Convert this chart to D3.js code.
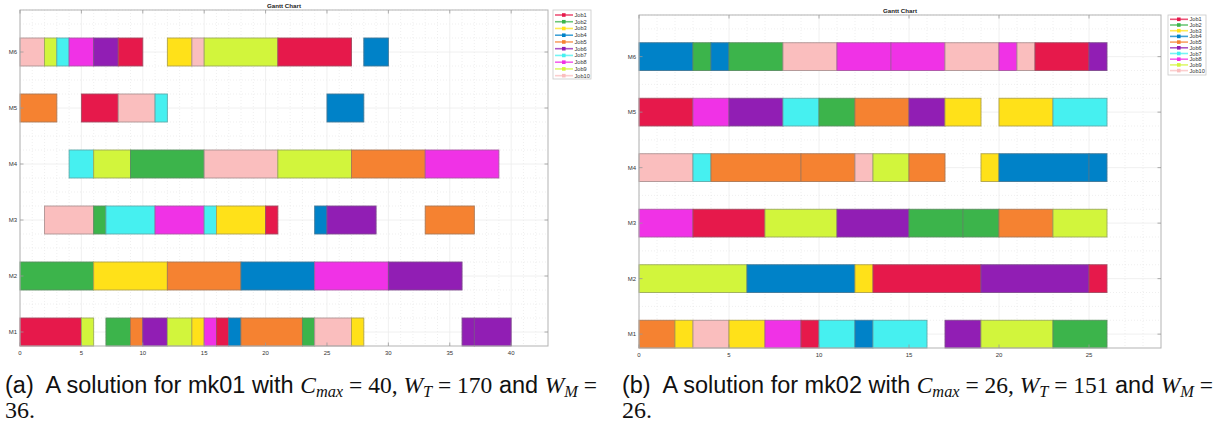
<!DOCTYPE html>
<html>
<head>
<meta charset="utf-8">
<script src="https://cdn.jsdelivr.net/npm/d3@7"></script>
<style>
  body { margin: 0; background: #fff; }
  svg { display: block; }
</style>
</head>
<body>
<svg width="1217" height="425"></svg>
<script>
// machines, jobs and colours
var machines = ["M1", "M2", "M3", "M4", "M5", "M6"];
var jobs = ["Job1", "Job2", "Job3", "Job4", "Job5", "Job6", "Job7", "Job8", "Job9", "Job10"];
var jobColors = ["#e6194b", "#3cb44b", "#ffe119", "#0082c8", "#f58231",
                 "#911eb4", "#46f0f0", "#f032e6", "#d2f53c", "#fabebe"];

// operations: [machine, job number, start, end]
var mk01Ops = [
  ["M6",10,0,2],["M6",9,2,3],["M6",7,3,4],["M6",8,4,6],["M6",6,6,8],["M6",1,8,10],
  ["M6",3,12,14],["M6",10,14,15],["M6",9,15,21],["M6",1,21,27],["M6",4,28,30],
  ["M5",5,0,3],["M5",1,5,8],["M5",10,8,11],["M5",7,11,12],["M5",4,25,28],
  ["M4",7,4,6],["M4",9,6,9],["M4",2,9,15],["M4",10,15,21],["M4",9,21,27],["M4",5,27,33],["M4",8,33,39],
  ["M3",10,2,6],["M3",2,6,7],["M3",7,7,11],["M3",8,11,15],["M3",7,15,16],["M3",3,16,20],["M3",1,20,21],
  ["M3",4,24,25],["M3",6,25,29],["M3",5,33,37],
  ["M2",2,0,6],["M2",3,6,12],["M2",5,12,18],["M2",4,18,24],["M2",8,24,30],["M2",6,30,36],
  ["M1",1,0,5],["M1",9,5,6],["M1",2,7,9],["M1",5,9,10],["M1",6,10,12],["M1",9,12,14],["M1",3,14,15],
  ["M1",8,15,16],["M1",1,16,17],["M1",4,17,18],["M1",5,18,23],["M1",2,23,24],["M1",10,24,27],
  ["M1",3,27,28],["M1",6,36,37],["M1",6,37,40]
];

var mk02Ops = [
  ["M6",4,0,3],["M6",2,3,4],["M6",4,4,5],["M6",2,5,8],["M6",10,8,11],["M6",8,11,14],["M6",8,14,17],
  ["M6",10,17,20],["M6",8,20,21],["M6",10,21,22],["M6",1,22,25],["M6",6,25,26],
  ["M5",1,0,3],["M5",8,3,5],["M5",6,5,8],["M5",7,8,10],["M5",2,10,12],["M5",5,12,15],["M5",6,15,17],
  ["M5",3,17,19],["M5",3,20,23],["M5",7,23,26],
  ["M4",10,0,3],["M4",7,3,4],["M4",5,4,9],["M4",5,9,12],["M4",10,12,13],["M4",9,13,15],["M4",5,15,17],
  ["M4",3,19,20],["M4",4,20,25],["M4",4,25,26],
  ["M3",8,0,3],["M3",1,3,7],["M3",9,7,11],["M3",6,11,15],["M3",2,15,18],["M3",2,18,20],["M3",5,20,23],["M3",9,23,26],
  ["M2",9,0,6],["M2",4,6,12],["M2",3,12,13],["M2",1,13,19],["M2",6,19,25],["M2",1,25,26],
  ["M1",5,0,2],["M1",3,2,3],["M1",10,3,5],["M1",3,5,7],["M1",8,7,9],["M1",1,9,10],["M1",7,10,12],
  ["M1",4,12,13],["M1",7,13,16],["M1",6,17,19],["M1",9,19,23],["M1",2,23,26]
];

var mk01Ticks = [0, 5, 10, 15, 20, 25, 30, 35, 40];
var mk02Ticks = [0, 5, 10, 15, 20, 25];

var svg = d3.select("svg");

function drawGantt(ops, ticks, xMax, box, legendBox) {
  var g = svg.append("g");
  var x = d3.scaleLinear().domain([0, xMax]).range([box.left, box.right]);
  var y = d3.scaleLinear().domain([0.75, 6.75]).range([box.bottom, box.top]);
  var rowPos = function(m) { return machines.indexOf(m) + 1; };

  // minor grid (dotted)
  g.selectAll(".minx").data(d3.range(1, xMax).filter(function(v) { return v % 5 != 0; }))
    .enter().append("line")
      .attr("x1", function(d) { return x(d); }).attr("x2", function(d) { return x(d); })
      .attr("y1", box.top).attr("y2", box.bottom)
      .attr("stroke", "#e4e4e4").attr("stroke-width", 0.6).attr("stroke-dasharray", "1,2");
  g.selectAll(".miny").data(d3.range(1, 27).map(function(v) { return 0.75 + v * 0.25; })
      .filter(function(v) { return v % 1 != 0; }))
    .enter().append("line")
      .attr("x1", box.left).attr("x2", box.right)
      .attr("y1", function(d) { return y(d); }).attr("y2", function(d) { return y(d); })
      .attr("stroke", "#e4e4e4").attr("stroke-width", 0.6).attr("stroke-dasharray", "1,2");

  // major grid
  var majX = ticks.concat(d3.range(ticks[ticks.length - 1] + 5, xMax, 5));
  g.selectAll(".majx").data(majX)
    .enter().append("line")
      .attr("x1", function(d) { return x(d); }).attr("x2", function(d) { return x(d); })
      .attr("y1", box.top).attr("y2", box.bottom)
      .attr("stroke", "#ececec").attr("stroke-width", 0.8);
  g.selectAll(".majy").data(d3.range(1, 7))
    .enter().append("line")
      .attr("x1", box.left).attr("x2", box.right)
      .attr("y1", function(d) { return y(d); }).attr("y2", function(d) { return y(d); })
      .attr("stroke", "#ececec").attr("stroke-width", 0.8);

  // bars
  var bh = y(0.75) - y(1.25);
  g.selectAll(".bar").data(ops)
    .enter().append("rect")
      .attr("x", function(d) { return x(d[2]); })
      .attr("y", function(d) { return y(rowPos(d[0]) + 0.25); })
      .attr("width", function(d) { return x(d[3]) - x(d[2]); })
      .attr("height", bh)
      .attr("fill", function(d) { return jobColors[d[1] - 1]; })
      .attr("stroke", function(d) { return d3.interpolateRgb(jobColors[d[1] - 1], "#707070")(0.55); })
      .attr("stroke-width", 0.9);

  // axes box
  g.append("rect")
    .attr("x", box.left).attr("y", box.top)
    .attr("width", box.right - box.left).attr("height", box.bottom - box.top)
    .attr("fill", "none").attr("stroke", "#b3b3b3").attr("stroke-width", 1);

  var tl = 3.5;
  majX.forEach(function(t) {
    g.append("line").attr("x1", x(t)).attr("x2", x(t)).attr("y1", box.bottom).attr("y2", box.bottom - tl)
      .attr("stroke", "#999").attr("stroke-width", 0.8);
    g.append("line").attr("x1", x(t)).attr("x2", x(t)).attr("y1", box.top).attr("y2", box.top + tl)
      .attr("stroke", "#999").attr("stroke-width", 0.8);
  });
  machines.forEach(function(m, i) {
    g.append("line").attr("x1", box.left).attr("x2", box.left + tl).attr("y1", y(i + 1)).attr("y2", y(i + 1))
      .attr("stroke", "#999").attr("stroke-width", 0.8);
    g.append("line").attr("x1", box.right).attr("x2", box.right - tl).attr("y1", y(i + 1)).attr("y2", y(i + 1))
      .attr("stroke", "#999").attr("stroke-width", 0.8);
  });

  // tick labels
  g.selectAll(".xl").data(ticks).enter().append("text")
    .attr("x", function(d) { return x(d); }).attr("y", box.bottom + 8.5)
    .attr("text-anchor", "middle")
    .attr("font-family", "Liberation Sans, Arial, sans-serif").attr("font-size", 6)
    .attr("fill", "#333").text(function(d) { return d; });
  g.selectAll(".yl").data(machines).enter().append("text")
    .attr("x", box.left - 3).attr("y", function(d, i) { return y(i + 1) + 2; })
    .attr("text-anchor", "end")
    .attr("font-family", "Liberation Sans, Arial, sans-serif").attr("font-size", 6)
    .attr("fill", "#333").text(function(d) { return d; });

  // title
  g.append("text")
    .attr("x", (box.left + box.right) / 2).attr("y", box.top - 2.5)
    .attr("text-anchor", "middle")
    .attr("font-family", "Liberation Sans, Arial, sans-serif").attr("font-size", 6.2)
    .attr("font-weight", "bold").attr("fill", "#222")
    .text("Gantt Chart");

  // legend
  var lg = g.append("g");
  lg.append("rect")
    .attr("x", legendBox.x).attr("y", legendBox.y)
    .attr("width", legendBox.w).attr("height", legendBox.h)
    .attr("fill", "#fff").attr("stroke", "#c8c8c8").attr("stroke-width", 0.8);
  var items = lg.selectAll(".li").data(jobs).enter().append("g")
    .attr("transform", function(d, i) {
      return "translate(" + legendBox.x + "," + (legendBox.y + legendBox.first + i * legendBox.dy) + ")";
    });
  items.append("line")
    .attr("x1", 2).attr("x2", 20).attr("y1", 0).attr("y2", 0)
    .attr("stroke", function(d, i) { return jobColors[i]; })
    .attr("stroke-opacity", 0.75).attr("stroke-width", 1.6);
  items.append("rect")
    .attr("x", 9).attr("y", -1.8).attr("width", 3.6).attr("height", 3.6)
    .attr("fill", function(d, i) { return jobColors[i]; });
  items.append("text")
    .attr("x", 21.5).attr("y", 2)
    .attr("font-family", "Liberation Sans, Arial, sans-serif").attr("font-size", 5.6)
    .attr("fill", "#333").text(function(d) { return d; });
}

drawGantt(mk01Ops, mk01Ticks, 43,
  {left: 20, right: 548, top: 10, bottom: 346},
  {x: 553, y: 10, w: 38, h: 69, first: 5, dy: 6.74});
drawGantt(mk02Ops, mk02Ticks, 29,
  {left: 639, right: 1161, top: 15, bottom: 348},
  {x: 1168, y: 15, w: 38, h: 60, first: 4.3, dy: 5.7});

// captions (the figure is squeezed sideways, so force the widths)
function caption(x0, width, label, mk, cmax, wt, wm) {
  var sans = "Liberation Sans, Arial, sans-serif";
  var serif = "Liberation Serif, DejaVu Serif, serif";
  var t = svg.append("text")
    .attr("x", x0).attr("y", 393)
    .attr("font-size", 23)
    .attr("fill", "#111")
    .attr("textLength", width).attr("lengthAdjust", "spacingAndGlyphs");
  function part(txt, fam, opt) {
    opt = opt || {};
    var s = t.append("tspan").attr("font-family", fam).text(txt);
    if (opt.italic) s.attr("font-style", "italic");
    if (opt.sub) s.attr("font-size", 16).attr("dy", 4);
    if (opt.up) s.attr("dy", -4);
    return s;
  }
  part("(" + label + ")\u00a0 A solution for " + mk + " with ", sans);
  part("C", serif, {italic: true});
  part("max", serif, {italic: true, sub: true});
  part(" = " + cmax + ", ", serif, {up: true});
  part("W", serif, {italic: true});
  part("T", serif, {italic: true, sub: true});
  part(" = " + wt, serif, {up: true});
  part(" and ", sans);
  part("W", serif, {italic: true});
  part("M", serif, {italic: true, sub: true});
  part(" =", serif, {up: true});

  svg.append("text")
    .attr("x", x0).attr("y", 418)
    .attr("font-size", 23).attr("fill", "#111")
    .attr("font-family", serif)
    .attr("textLength", 30).attr("lengthAdjust", "spacingAndGlyphs")
    .text(wm + ".");
}
caption(5, 592, "a", "mk01", 40, 170, 36);
caption(622, 591, "b", "mk02", 26, 151, 26);
</script>
</body>
</html>
